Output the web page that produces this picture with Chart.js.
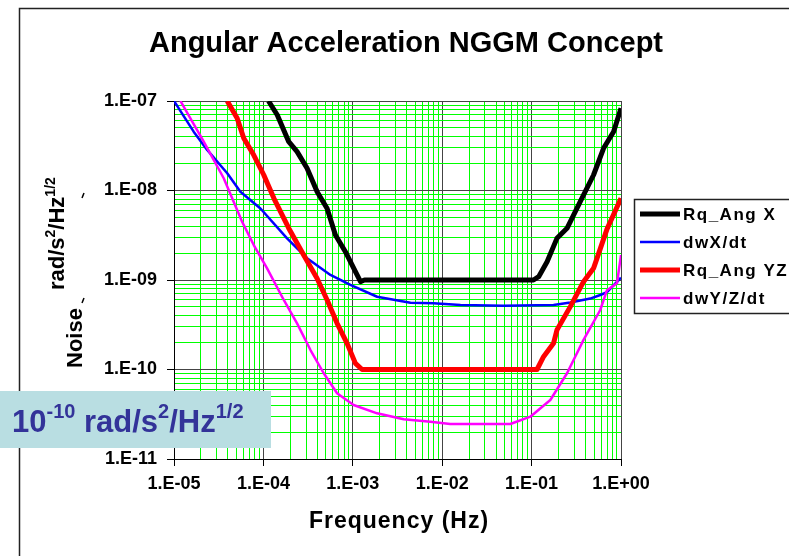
<!DOCTYPE html>
<html>
<head>
<meta charset="utf-8">
<title>Angular Acceleration NGGM Concept</title>
<script src="https://cdn.jsdelivr.net/npm/chart.js@4.4.1/dist/chart.umd.min.js"></script>
<style>
    html, body { margin: 0; padding: 0; background: #fff; }
    #wrap { width: 789px; height: 556px; }
</style>
</head>
<body>
<div id="wrap"><canvas id="noiseChart" width="789" height="556"></canvas></div>
<script>
// Axis decades (powers of ten) and minor multipliers for the log grid
const xDecades = [-5, -4, -3, -2, -1, 0];
const yDecades = [-11, -10, -9, -8, -7];
const minorSteps = [1, 2, 3, 4, 5, 6, 7, 8, 9];

const seriesNames = ['Rq_Ang X', 'dwX/dt', 'Rq_Ang YZ', 'dwY/Z/dt'];
const seriesColors = ['#000000', '#0000ff', '#ff0000', '#ff00ff'];

// Rq_Ang X
const rqAngXFreq  = [1.14e-4, 1.43e-4, 1.92e-4, 2.38e-4, 3.08e-4, 3.99e-4, 5.16e-4, 6.39e-4, 8.26e-4, 1.07e-3, 1.22e-3, 1.35e-3, 0.105, 0.120, 0.149, 0.192, 0.249, 0.350, 0.493, 0.638, 0.826, 1.0];
const rqAngXNoise = [1.0e-7, 6.98e-8, 3.51e-8, 2.72e-8, 1.77e-8, 9.7e-9, 6.3e-9, 3.18e-9, 2.07e-9, 1.24e-9, 0.96e-9, 1.0e-9, 1.0e-9, 1.09e-9, 1.6e-9, 2.92e-9, 3.78e-9, 7.5e-9, 1.49e-8, 2.96e-8, 4.54e-8, 8.3e-8];

// dwX/dt
const dwXFreq  = [1.0e-5, 1.66e-5, 2.35e-5, 3.94e-5, 5.53e-5, 9.27e-5, 1.84e-4, 3.08e-4, 5.62e-4, 9.4e-4, 1.87e-3, 4.41e-3, 8.0e-3, 1.6e-2, 4.86e-2, 0.176, 0.271, 0.453, 0.586, 0.697, 1.0];
const dwXNoise = [1.0e-7, 4.54e-8, 2.84e-8, 1.56e-8, 9.7e-9, 6.3e-9, 2.92e-9, 1.75e-9, 1.14e-9, 8.8e-10, 6.5e-10, 5.57e-10, 5.5e-10, 5.26e-10, 5.16e-10, 5.26e-10, 5.6e-10, 6.2e-10, 6.8e-10, 7.3e-10, 1.06e-9];

// Rq_Ang YZ
const rqAngYZFreq  = [3.94e-5, 5.09e-5, 6.03e-5, 7.8e-5, 1.01e-4, 1.31e-4, 1.92e-4, 2.82e-4, 3.99e-4, 5.16e-4, 6.67e-4, 8.63e-4, 1.07e-3, 1.27e-3, 0.115, 0.136, 0.176, 0.192, 0.271, 0.381, 0.493, 0.697, 1.0];
const rqAngYZNoise = [1.0e-7, 6.41e-8, 3.83e-8, 2.49e-8, 1.49e-8, 8.18e-9, 3.79e-9, 1.9e-9, 1.04e-9, 5.98e-10, 3.28e-10, 1.96e-10, 1.17e-10, 1.0e-10, 1.0e-10, 1.39e-10, 1.96e-10, 2.76e-10, 5.04e-10, 9.58e-10, 1.35e-9, 3.7e-9, 8.2e-9];

// dwY/Z/dt
const dwYZFreq  = [1.18e-5, 2.15e-5, 3.6e-5, 5.78e-5, 7.8e-5, 1.10e-4, 1.69e-4, 2.38e-4, 3.36e-4, 4.73e-4, 6.67e-4, 1.02e-3, 1.87e-3, 3.71e-3, 7.38e-3, 1.23e-2, 5.78e-2, 9.68e-2, 0.162, 0.249, 0.381, 0.586, 0.697, 0.902, 1.0];
const dwYZNoise = [1.0e-7, 3.51e-8, 1.37e-8, 4.48e-9, 2.46e-9, 1.35e-9, 5.98e-10, 3.28e-10, 1.65e-10, 9.08e-11, 5.42e-11, 4.01e-11, 3.24e-11, 2.78e-11, 2.61e-11, 2.46e-11, 2.46e-11, 2.97e-11, 4.56e-11, 9.08e-11, 2.14e-10, 4.62e-10, 7.7e-10, 9.2e-10, 1.9e-9];

const FONT = "'Liberation Sans', Arial, sans-serif";

function logTicks(decades) {
    const out = [];
    decades.forEach((e, i) => {
        const steps = i === decades.length - 1 ? [1] : minorSteps;
        steps.forEach(m => out.push(Number(m + 'e' + e)));
    });
    return out;
}

function isDecade(v) {
    const l = Math.log10(v);
    return Math.abs(l - Math.round(l)) < 1e-6;
}

function fmtExp(v) {
    const e = Math.round(Math.log10(v));
    return '1.E' + (e < 0 ? '-' : '+') + String(Math.abs(e)).padStart(2, '0');
}

function toPoints(xs, ys) {
    return xs.map((x, i) => ({ x: x, y: ys[i] }));
}

// draw a run of text pieces, some of them superscript
function drawRich(ctx, parts, x, y, size, supSize, supRise) {
    parts.forEach(p => {
        ctx.font = 'bold ' + (p.sup ? supSize : size) + 'px ' + FONT;
        ctx.fillText(p.t, x, p.sup ? y - supRise : y);
        x += ctx.measureText(p.t).width;
    });
    return x;
}

const decorPlugin = {
    id: 'decor',
    beforeDraw(chart) {
        const ctx = chart.ctx;
        ctx.save();
        ctx.fillStyle = '#fff';
        ctx.fillRect(0, 0, chart.width, chart.height);
        ctx.strokeStyle = '#222';
        ctx.lineWidth = 1.5;
        ctx.strokeRect(19.5, 8.5, 800, 600);
        ctx.restore();
    },
    afterDraw(chart) {
        const ctx = chart.ctx;
        ctx.save();
        ctx.fillStyle = '#000';
        ctx.textBaseline = 'alphabetic';

        // title
        ctx.textAlign = 'center';
        ctx.font = 'bold 29px ' + FONT;
        ctx.fillText('Angular Acceleration NGGM Concept', 406, 52);

        // x axis title
        ctx.letterSpacing = '1px';
        ctx.font = 'bold 23px ' + FONT;
        ctx.fillText('Frequency (Hz)', 399, 528);
        ctx.letterSpacing = '0px';

        // y axis title, rotated
        ctx.save();
        ctx.translate(82, 338);
        ctx.rotate(-Math.PI / 2);
        ctx.textAlign = 'center';
        ctx.font = 'bold 22px ' + FONT;
        ctx.fillText('Noise', 0, 0);
        ctx.restore();

        ctx.save();
        ctx.translate(64, 290);
        ctx.rotate(-Math.PI / 2);
        ctx.textAlign = 'left';
        drawRich(ctx, [
            { t: 'rad/s' }, { t: '2', sup: true }, { t: '/Hz' }, { t: '1/2', sup: true }
        ], 0, 0, 22, 14, 9);
        ctx.restore();

        // the two stray marks of the axis title
        ctx.strokeStyle = '#000';
        ctx.lineWidth = 1.5;
        [195, 300].forEach(y => {
            ctx.beginPath();
            ctx.moveTo(84, y - 2);
            ctx.lineTo(82, y + 3);
            ctx.stroke();
        });

        // level annotation
        ctx.fillStyle = '#b9dee2';
        ctx.fillRect(0, 391, 271, 57);
        ctx.fillStyle = '#333399';
        ctx.textAlign = 'left';
        drawRich(ctx, [
            { t: '10' }, { t: '-10', sup: true }, { t: ' rad/s' }, { t: '2', sup: true },
            { t: '/Hz' }, { t: '1/2', sup: true }
        ], 12, 432, 31, 20, 14);

        // legend
        const lx = 634, ly = 199;
        ctx.fillStyle = '#fff';
        ctx.fillRect(lx, ly, 200, 114);
        ctx.strokeStyle = '#222';
        ctx.lineWidth = 1.5;
        ctx.strokeRect(lx + 0.5, ly + 0.5, 200, 114);
        ctx.font = 'bold 17px ' + FONT;
        ctx.letterSpacing = '1.5px';
        ctx.textBaseline = 'middle';
        chart.data.datasets.forEach((ds, i) => {
            const y = 214 + i * 28;
            ctx.strokeStyle = ds.borderColor;
            ctx.lineWidth = ds.borderWidth;
            ctx.beginPath();
            ctx.moveTo(640, y);
            ctx.lineTo(680, y);
            ctx.stroke();
            ctx.fillStyle = '#000';
            ctx.fillText(ds.label, 683, y + 1);
        });
        ctx.restore();
    }
};

const lineWidths = [5, 2.5, 5, 2.5];
const seriesData = [
    toPoints(rqAngXFreq, rqAngXNoise),
    toPoints(dwXFreq, dwXNoise),
    toPoints(rqAngYZFreq, rqAngYZNoise),
    toPoints(dwYZFreq, dwYZNoise)
];

const gridColor = c => (c.tick && isDecade(c.tick.value)) ? '#444' : '#00ff00';
const tickMarkColor = c => (c.tick && isDecade(c.tick.value)) ? '#000' : 'rgba(0,0,0,0)';

const ctx = document.getElementById('noiseChart').getContext('2d');
new Chart(ctx, {
    type: 'line',
    data: {
        datasets: seriesData.map((pts, i) => ({
            label: seriesNames[i],
            data: pts,
            borderColor: seriesColors[i],
            borderWidth: lineWidths[i],
            pointRadius: 0,
            tension: 0,
            fill: false,
            borderJoinStyle: 'round',
            order: 4 - i
        }))
    },
    options: {
        responsive: false,
        animation: false,
        layout: { padding: { left: 0, right: 168, top: 101, bottom: 0 } },
        plugins: {
            legend: { display: false },
            title: { display: false },
            tooltip: { enabled: false }
        },
        scales: {
            x: {
                type: 'logarithmic',
                min: 1e-5,
                max: 1,
                afterBuildTicks: s => { s.ticks = logTicks(xDecades).map(v => ({ value: v })); },
                afterFit: s => { s.height = 97; },
                ticks: {
                    autoSkip: false,
                    maxRotation: 0,
                    padding: 7,
                    color: '#000',
                    font: { family: FONT, size: 18, weight: 'bold' },
                    callback: v => isDecade(v) ? fmtExp(v) : ''
                },
                grid: { color: gridColor, lineWidth: 1, tickLength: 7, tickColor: tickMarkColor },
                border: { color: '#000', width: 1 }
            },
            y: {
                type: 'logarithmic',
                min: 1e-11,
                max: 1e-7,
                afterBuildTicks: s => { s.ticks = logTicks(yDecades).map(v => ({ value: v })); },
                afterFit: s => { s.width = 174; },
                ticks: {
                    autoSkip: false,
                    padding: 10,
                    color: '#000',
                    font: { family: FONT, size: 18, weight: 'bold' },
                    callback: v => isDecade(v) ? fmtExp(v) : ''
                },
                grid: { color: gridColor, lineWidth: 1, tickLength: 7, tickColor: tickMarkColor },
                border: { color: '#000', width: 1 }
            }
        }
    },
    plugins: [decorPlugin]
});
</script>
</body>
</html>
